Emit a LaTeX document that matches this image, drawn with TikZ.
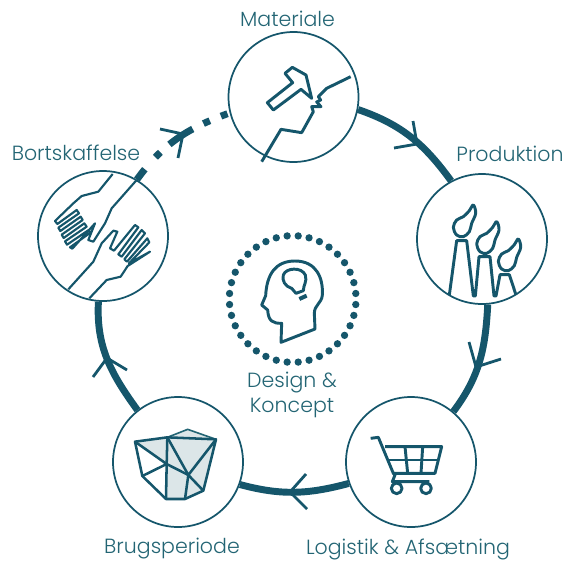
\documentclass[tikz,border=0pt]{standalone}
\usepackage{fontspec}
\setmainfont{Poppins Light}
\definecolor{teal1}{HTML}{15566B}
\definecolor{teal2}{HTML}{236574}
\definecolor{pale}{HTML}{DCE6E8}
\tikzset{
  px/.style={x=0.75pt,y=-0.75pt},
  stage/.style={circle,draw=teal1,line width=1.3pt,minimum size=97.5pt,inner sep=0pt},
  link/.style={draw=teal1,line width=5.2pt},
  dashlink/.style={draw=teal1,line width=5.2pt,dash pattern=on 9.75pt off 12pt on 5.25pt off 9pt on 21pt off 9pt on 5.25pt off 9pt on 5.25pt},
  chev/.style={draw=teal1,line width=2.1pt},
  icon/.style={draw=teal1,line width=2.2pt,line join=round},
  iconthin/.style={draw=teal1,line width=1.9pt,line join=round},
  handline/.style={draw=teal1,line width=1.6pt,line join=round},
  lab/.style={text=teal2,font=\fontsize{15.4}{18.75}\selectfont,inner sep=0pt,align=center},
}
\begin{document}
\begin{tikzpicture}[px]
\useasboundingbox (0,0) rectangle (566,561);
% stages
\node[stage] (mat) at (293.5,97) {};
\node[stage] (prod) at (482,239) {};
\node[stage] (log) at (411,462) {};
\node[stage] (brug) at (178,462) {};
\node[stage] (bort) at (103,236) {};
% connectors
\draw[link] (mat.-11) to[out=-19,in=126] (prod.118);
\draw[link] (prod.-85) to[out=-93,in=53] (log.50);
\draw[link] (log.199) to[out=195,in=-15] (brug.-20);
\draw[link] (brug.128) to[out=126,in=-93] (bort.-94);
\draw[dashlink] (bort.59) to[out=54,in=200] (mat.194);
% chevrons
\draw[chev] (413,121) -- (417,144) -- (394,148);
\draw[chev] (469,342) -- (476,367) -- (501,359);
\draw[chev] (306,474) -- (290,492) -- (307,509);
\draw[chev] (93,377) -- (107,358) -- (127,370);
\draw[chev] (160,129) -- (183,134) -- (178,158);
% hammer
\begin{scope}[shift={(220,30)},scale=1/3]
\draw[icon] (217,112) -- (258,135) -- (275,205) -- (243,178) -- (160,240) -- (142,218) -- (218,158) -- (195,130) -- cycle;
\draw[icon] (392,140) -- (320,175) -- (295,200) -- (302,210) -- (290,216) -- (303,230) -- (275,230) -- (280,245) -- (245,308) -- (183,298) -- (125,395);
\end{scope}
% factory
\begin{scope}[shift={(410,170)},scale=1/3]
\draw[icon] (118,375) -- (140,212) -- (170,212) -- (190,378) -- (196,378) -- (207,260) -- (240,260) -- (252,378) -- (258,378) -- (270,314) -- (298,314) -- (318,375);
\foreach \dx/\dy in {0/0,70/50,135/102}{
  \begin{scope}[shift={(\dx,\dy)}]
  \draw[icon] plot[smooth cycle,tension=0.6] coordinates {(190,105) (178,122) (160,140) (140,150) (130,172) (140,195) (160,200) (178,185) (185,160) (197,130)};
  \end{scope}
}
\end{scope}
% cart
\begin{scope}[shift={(340,395)},scale=1/3]
\draw[icon] (92,130) -- (115,127) -- (160,235) -- (165,240) -- (157,260) -- (268,260);
\draw[icon] (135,155) -- (305,155) -- (285,235) -- (160,235);
\draw[icon] (147,195) -- (296,195);
\draw[icon] (195,155) -- (203,235);
\draw[icon] (248,155) -- (243,235);
\draw[icon] (170,280) circle (16);
\draw[icon] (258,280) circle (16);
\end{scope}
% crystal
\begin{scope}[shift={(105,390)},scale=1/3]
\fill[pale] (90,155) -- (187,142) -- (248,118) -- (333,148) -- (295,302) -- (240,327) -- (183,327) -- (185,222) -- cycle;
\draw[draw=teal2,line width=1.2pt] (187,142) -- (248,118) -- (333,148);
\draw[iconthin] (90,155) -- (187,142) -- (333,148) -- (295,302) -- (240,327) -- (183,327) -- (112,258) -- cycle;
\draw[iconthin] (90,155) -- (185,222) -- (112,258);
\draw[iconthin] (187,142) -- (185,222) -- (183,327);
\draw[iconthin] (187,142) -- (250,255) -- (333,148);
\draw[iconthin] (185,222) -- (250,255) -- (295,302);
\draw[iconthin] (250,255) -- (240,327);
\end{scope}
% hands
\begin{scope}[shift={(30,160)},scale=1/3]
\draw[handline] (248,42) -- (205,95) -- (155,108) -- (130,130) -- (75,183) -- (82,192) -- (140,150) -- (147,160) -- (85,203) -- (91,213) -- (152,170) -- (158,180) -- (95,224) -- (101,234) -- (163,190) -- (170,200) -- (105,244) -- (111,254) -- (176,210) -- (181,218) -- (120,262) -- (127,266) -- (195,190) -- (175,240) -- (190,245) -- (225,190) -- (245,145) -- (320,60);
\draw[handline] (115,388) -- (190,305) -- (215,250) -- (250,212) -- (262,215) -- (240,265) -- (252,272) -- (315,195) -- (325,202) -- (265,283) -- (275,290) -- (335,210) -- (345,220) -- (283,298) -- (291,305) -- (352,235) -- (358,247) -- (297,310) -- (360,275) -- (293,318) -- (272,350) -- (230,360) -- (178,415);
\end{scope}
% head
\begin{scope}[shift={(220,225)},scale=1/3]
\foreach \a in {5,15,...,355} \fill[teal1] (218,222) ++(\a:190) circle (11);
\draw[icon] (183,352) -- (185,295) .. controls (160,295) and (145,290) .. (143,255) -- (125,240) -- (137,212) .. controls (140,150) and (165,108) .. (225,108) .. controls (290,108) and (310,160) .. (307,210) .. controls (305,235) and (283,240) .. (283,265) -- (285,312) -- cycle;
\draw[icon] (228,205) -- (215,190) .. controls (195,185) and (185,165) .. (190,150) .. controls (197,128) and (245,125) .. (256,150) .. controls (262,170) and (250,180) .. (250,197) -- cycle;
\draw[draw=teal1,line width=3pt] (238,222) -- (260,212);
\end{scope}
% labels
\node[lab] (l1) at (287.5,19) {Materiale};
\node[lab] (l2) at (510,154) {Produktion};
\node[lab] (l3) at (76,153) {Bortskaffelse};
\node[lab] (l4) at (172,549) {Brugsperiode};
\node[lab] (l5) at (408,549) {Logistik \& Afsætning};
\node[lab] (l6) at (292,394.5) {Design \&\\Koncept};
\end{tikzpicture}
\end{document}
